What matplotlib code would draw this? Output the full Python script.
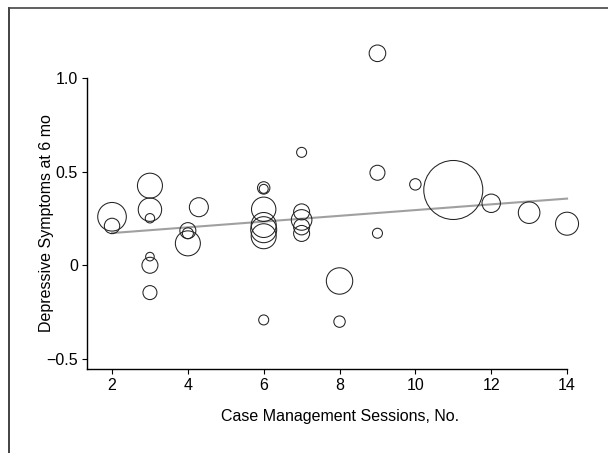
import matplotlib
matplotlib.use("Agg")
import matplotlib.pyplot as plt
from matplotlib.lines import Line2D

# sessions, symptom score at 6 months, bubble radius (px)
sessions = [2, 2, 3, 3, 3, 3, 3, 3, 4, 4, 4, 4.29, 6, 6, 6, 6, 6, 6, 6,
            7, 7, 7, 7, 7, 8, 8, 9, 9, 9, 10, 11, 12, 13, 14]
symptoms = [0.259, 0.210, 0.425, 0.297, 0.251, 0.046, 0.000, -0.146,
            0.185, 0.171, 0.117, 0.310,
            0.413, 0.408, 0.299, 0.215, 0.190, 0.155, -0.292,
            0.603, 0.285, 0.242, 0.205, 0.170,
            -0.084, -0.301, 1.132, 0.494, 0.171, 0.432, 0.402, 0.331, 0.281, 0.222]
radius = [14.3, 7.7, 12.5, 11.7, 4.7, 4.3, 8, 7,
          8, 5.5, 12.5, 9.5,
          6.2, 4.5, 12.2, 12.5, 13, 12.5, 5,
          5, 8, 10.3, 8, 8,
          13.2, 5.7, 8.3, 7.5, 5, 5.7, 29.5, 9.2, 10.8, 11.5]

fit_x = [2, 14]
fit_y = [0.172, 0.356]

x_ticks = [2, 4, 6, 8, 10, 12, 14]
y_ticks = [-0.5, 0, 0.5, 1.0]
y_tick_labels = ["\u22120.5", "0", "0.5", "1.0"]

plt.rcParams["font.family"] = ["Liberation Sans", "DejaVu Sans"]

fig = plt.figure(figsize=(6.08, 4.53), dpi=100)
ax = fig.add_axes([87 / 608, 84 / 453, 499 / 608, 337.8 / 453])

dpi = fig.dpi
s = [(2 * r * 72 / dpi) ** 2 for r in radius]
ax.plot(fit_x, fit_y, color="#a0a0a0", linewidth=1.5, zorder=1)
ax.scatter(sessions, symptoms, s=s, facecolors="none", edgecolors="#222222",
           linewidths=0.75, zorder=2, clip_on=False)

ax.set_xlim(1.34, 14.5)
ax.set_ylim(-0.554, 1.25)
for side in ("top", "right"):
    ax.spines[side].set_visible(False)
ax.spines["left"].set_bounds(-0.554, 1.0)
ax.spines["bottom"].set_bounds(1.34, 14)
for side in ("left", "bottom"):
    ax.spines[side].set_linewidth(1.0)
ax.set_xticks(x_ticks)
ax.set_yticks(y_ticks)
ax.set_yticklabels(y_tick_labels)
ax.tick_params(direction="out", length=3.5, width=0.8, labelsize=11.5, pad=3)

ax.set_xlabel("Case Management Sessions, No.", fontsize=11.5)
ax.set_ylabel("Depressive Symptoms at 6 mo", fontsize=11.5)
ax.xaxis.set_label_coords(0.507, -0.118)
ax.yaxis.set_label_coords(-0.066, 0.431)

# outer frame (left and top edges)
fig.add_artist(Line2D([8.5 / 608, 8.5 / 608], [0, 1 - 7.5 / 453],
                      transform=fig.transFigure, color="#222222", linewidth=1.2))
fig.add_artist(Line2D([8.5 / 608, 1], [1 - 7.5 / 453, 1 - 7.5 / 453],
                      transform=fig.transFigure, color="#444444", linewidth=1.2))

fig.savefig("out.png", dpi=100)
